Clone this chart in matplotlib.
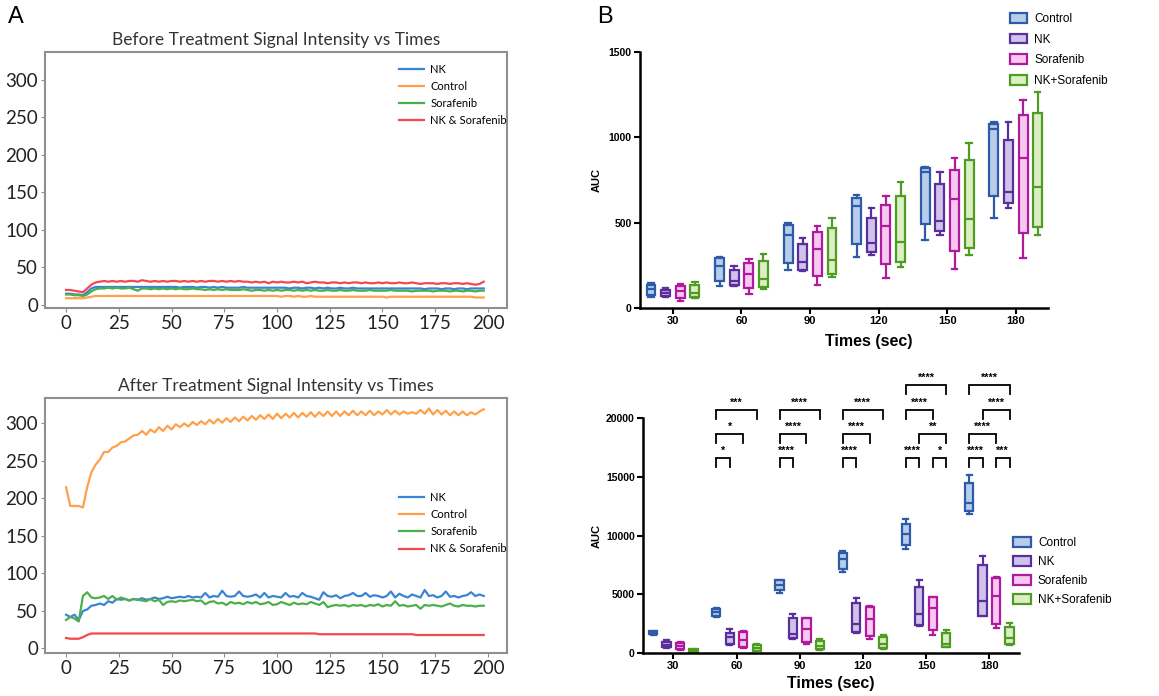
import matplotlib.pyplot as plt
import numpy as np
from matplotlib.patches import Patch

# ---------------- data ----------------
t = np.arange(0, 200, 2)  # sample times (every 2 s)

# panel A, before treatment
before_nk = [15, 15, 14, 14, 13, 17, 22, 24, 24, 24, 24, 24, 24, 24, 24, 24, 24, 24, 24, 24,
             24, 24, 24, 24, 24, 24, 24, 23, 24, 24, 24, 23, 24, 24, 23, 24, 23, 24, 23, 23,
             23, 23, 24, 23, 23, 23, 23, 23, 23, 23, 23, 23, 23, 22, 23, 23, 22, 23, 23, 22,
             23, 22, 23, 22, 22, 23, 22, 22, 23, 22, 22, 22, 22, 22, 22, 22, 22, 22, 22, 22,
             22, 22, 22, 22, 22, 21, 22, 22, 22, 21, 22, 22, 21, 22, 22, 21, 22, 22, 22, 22]
before_ctrl = [9, 9, 9, 9, 9, 10, 11, 12, 12, 12, 12, 12, 12, 12, 12, 12, 12, 12, 12, 12,
               12, 12, 12, 12, 12, 12, 12, 12, 12, 12, 12, 12, 12, 12, 12, 12, 12, 12, 12, 12,
               12, 12, 12, 12, 12, 12, 12, 12, 12, 12, 12, 11, 12, 12, 11, 12, 11, 11, 12, 11,
               11, 11, 11, 11, 11, 11, 11, 11, 11, 11, 11, 11, 11, 11, 11, 11, 10, 11, 11, 11,
               11, 11, 11, 11, 11, 11, 11, 11, 11, 11, 11, 11, 11, 11, 11, 11, 11, 10, 10, 10]
before_sor = [14, 14, 13, 13, 12, 14, 18, 21, 22, 22, 23, 22, 23, 22, 22, 23, 21, 19, 22, 22,
              21, 22, 21, 22, 21, 22, 21, 22, 21, 21, 22, 21, 21, 20, 21, 20, 21, 20, 21, 20,
              20, 20, 21, 20, 19, 20, 20, 19, 20, 19, 20, 19, 20, 20, 19, 20, 19, 20, 19, 20,
              19, 19, 20, 19, 19, 20, 19, 19, 20, 19, 19, 19, 20, 19, 19, 19, 19, 20, 19, 19,
              19, 19, 18, 19, 19, 19, 19, 18, 19, 19, 19, 18, 19, 19, 18, 19, 19, 18, 19, 19]
before_nks = [20, 20, 19, 18, 17, 22, 27, 30, 31, 32, 31, 32, 31, 32, 31, 32, 32, 31, 33, 32,
              31, 32, 31, 32, 31, 32, 32, 31, 32, 31, 32, 31, 32, 31, 32, 32, 31, 32, 31, 32,
              31, 32, 31, 31, 30, 31, 30, 31, 29, 31, 30, 31, 30, 30, 31, 30, 31, 29, 30, 31,
              30, 30, 29, 30, 30, 29, 30, 29, 30, 30, 29, 30, 29, 29, 30, 29, 30, 29, 29, 30,
              29, 29, 30, 29, 28, 29, 29, 29, 28, 29, 29, 28, 29, 29, 28, 29, 28, 27, 28, 31]

# panel A, after treatment
after_nk = [45, 42, 45, 38, 50, 52, 57, 58, 60, 58, 63, 61, 66, 65, 66, 64, 66, 65, 67, 65,
            66, 68, 66, 67, 69, 67, 68, 69, 68, 70, 68, 69, 68, 74, 68, 70, 69, 77, 70, 69,
            70, 76, 70, 69, 70, 72, 68, 74, 68, 70, 69, 68, 74, 69, 70, 68, 74, 70, 69, 67,
            65, 75, 70, 69, 71, 67, 70, 71, 74, 70, 70, 74, 69, 71, 70, 68, 70, 76, 68, 73,
            70, 68, 72, 70, 68, 78, 70, 71, 68, 70, 76, 69, 70, 68, 70, 71, 75, 70, 72, 70]
after_ctrl = [215, 190, 190, 190, 188, 215, 235, 245, 252, 262, 262, 268, 270, 275, 276, 280, 284, 285, 290, 285,
              292, 288, 295, 290, 297, 292, 299, 295, 300, 296, 302, 298, 303, 299, 305, 300, 306, 301, 307, 302,
              308, 303, 309, 304, 310, 305, 311, 306, 312, 306, 313, 307, 313, 308, 314, 308, 314, 309, 315, 309,
              315, 310, 316, 310, 316, 310, 316, 311, 317, 311, 316, 311, 317, 311, 316, 312, 318, 312, 317, 312,
              316, 313, 315, 313, 318, 313, 320, 312, 318, 312, 317, 311, 316, 311, 316, 311, 315, 312, 316, 319]
after_sor = [38, 42, 40, 36, 70, 75, 68, 67, 68, 70, 66, 70, 65, 68, 66, 64, 66, 65, 64, 63,
             66, 63, 65, 58, 62, 63, 62, 64, 63, 64, 65, 63, 64, 59, 62, 63, 60, 61, 58, 62,
             60, 61, 59, 62, 60, 62, 59, 60, 62, 58, 59, 62, 60, 58, 61, 59, 60, 59, 62, 60,
             58, 62, 55, 57, 58, 57, 58, 56, 58, 57, 58, 56, 58, 57, 59, 56, 58, 57, 63, 57,
             58, 56, 57, 58, 53, 58, 57, 58, 57, 56, 58, 60, 57, 56, 58, 57, 57, 56, 57, 57]
after_nks = [14, 13, 13, 13, 15, 18, 20, 20, 20, 20, 20, 20, 20, 20, 20, 20, 20, 20, 20, 20,
             20, 20, 20, 20, 20, 20, 20, 20, 20, 20, 20, 20, 20, 20, 20, 20, 20, 20, 20, 20,
             20, 20, 20, 20, 20, 20, 20, 20, 20, 20, 20, 20, 20, 20, 20, 20, 20, 20, 20, 20,
             19, 19, 19, 19, 19, 19, 19, 19, 19, 19, 19, 19, 19, 19, 19, 19, 19, 19, 19, 19,
             19, 19, 19, 18, 18, 18, 18, 18, 18, 18, 18, 18, 18, 18, 18, 18, 18, 18, 18, 18]

# panel B, box statistics per time point: (whislo, q1, med, q3, whishi)
times = [30, 60, 90, 120, 150, 180]
groups = ['Control', 'NK', 'Sorafenib', 'NK+Sorafenib']

auc1_ctrl = [(65, 75, 110, 135, 145), (128, 160, 245, 290, 300), (220, 265, 425, 485, 500),
             (298, 372, 600, 645, 660), (397, 495, 795, 822, 828), (530, 658, 1047, 1077, 1087)]
auc1_nk = [(62, 70, 88, 105, 120), (130, 135, 160, 220, 245), (215, 220, 270, 375, 410),
           (310, 330, 380, 530, 585), (425, 450, 510, 725, 797), (587, 613, 681, 985, 1089)]
auc1_sor = [(40, 60, 100, 130, 143), (80, 115, 200, 265, 285), (137, 190, 345, 445, 478),
            (178, 258, 480, 605, 655), (229, 335, 636, 810, 877), (294, 440, 877, 1128, 1220)]
auc1_nks = [(60, 62, 85, 133, 155), (110, 125, 170, 275, 315), (180, 200, 280, 470, 525),
            (240, 270, 385, 658, 740), (310, 354, 520, 867, 969), (425, 476, 707, 1141, 1267)]

auc2_ctrl = [(1550, 1650, 1750, 1850, 1870), (3060, 3120, 3480, 3770, 3860), (5100, 5330, 5760, 6180, 6240),
             (6860, 7150, 7970, 8510, 8680), (8880, 9160, 10100, 11000, 11430), (11800, 12100, 12800, 14470, 15120)]
auc2_nk = [(450, 480, 700, 900, 1080), (650, 800, 1350, 1700, 2040), (1220, 1300, 1650, 3000, 3350),
           (1700, 1790, 2500, 4280, 4700), (2270, 2350, 3350, 5620, 6240), (3120, 3150, 4420, 7520, 8230)]
auc2_sor = [(280, 300, 560, 850, 930), (450, 550, 1130, 1780, 1870), (790, 900, 2070, 2980, 3000),
            (1220, 1420, 2920, 3920, 3970), (1560, 1930, 3860, 4770, 4770), (2130, 2500, 4820, 6410, 6470)]
auc2_nks = [(30, 60, 180, 300, 370), (150, 200, 430, 700, 800), (280, 300, 620, 990, 1220),
            (370, 400, 800, 1360, 1560), (500, 550, 800, 1700, 1990), (650, 750, 1280, 2210, 2550)]

# significance brackets: (time index, group a, group b, level, label)
sig = [(1, 0, 1, 0, '*'), (1, 0, 2, 1, '*'), (1, 0, 3, 2, '***'),
       (2, 0, 1, 0, '****'), (2, 0, 2, 1, '****'), (2, 0, 3, 2, '****'),
       (3, 0, 1, 0, '****'), (3, 0, 2, 1, '****'), (3, 0, 3, 2, '****'),
       (4, 0, 1, 0, '****'), (4, 2, 3, 0, '*'), (4, 1, 3, 1, '**'), (4, 0, 2, 2, '****'), (4, 0, 3, 3, '****'),
       (5, 0, 1, 0, '****'), (5, 2, 3, 0, '***'), (5, 0, 2, 1, '****'), (5, 1, 3, 2, '****'), (5, 0, 3, 3, '****')]
sig_levels = [16600, 18670, 20710, 22780]

# ---------------- style ----------------
line_cols = {'NK': '#3a84d6', 'Control': '#ffa04a', 'Sorafenib': '#4cae4c', 'NK & Sorafenib': '#f5474f'}
edge_cols = ['#2d5ba8', '#5a2f9c', '#b01a9c', '#4f9c22']
face_cols = ['#b8cde9', '#d0c3ea', '#f6c9f0', '#dcefc4']
offsets = [-0.32, -0.107, 0.107, 0.32]
afont = 'Lato'
bfont = 'Liberation Sans'

fig = plt.figure(figsize=(11.59, 6.96), dpi=100)


def panel_a(rect, title, nk, ctrl, sor, nks, leg_y, ylim):
    ax = fig.add_axes(rect)
    ax.plot(t, nk, color=line_cols['NK'], lw=1.6, label='NK')
    ax.plot(t, ctrl, color=line_cols['Control'], lw=1.6, label='Control')
    ax.plot(t, sor, color=line_cols['Sorafenib'], lw=1.6, label='Sorafenib')
    ax.plot(t, nks, color=line_cols['NK & Sorafenib'], lw=1.6, label='NK & Sorafenib')
    ax.set_xlim(-10, 209)
    ax.set_ylim(*ylim)
    ax.set_xticks(np.arange(0, 201, 25))
    ax.set_yticks(np.arange(0, 301, 50))
    for s in ax.spines.values():
        s.set_color('#8f8f8f')
        s.set_linewidth(1.5)
    ax.tick_params(length=3, color='#8f8f8f', labelsize=13.5, labelcolor='#222222', pad=2)
    for lab in ax.get_xticklabels() + ax.get_yticklabels():
        lab.set_fontfamily(afont)
    ax.set_title(title, fontsize=12.5, family=afont, color='#333333', pad=5)
    ax.legend(loc='upper left', bbox_to_anchor=(0.745, leg_y), frameon=False,
              prop={'family': afont, 'size': 8}, handlelength=2.2, handletextpad=0.6,
              labelspacing=0.55)
    return ax


panel_a([0.0388, 0.5575, 0.3986, 0.3678], 'Before Treatment Signal Intensity vs Times',
        before_nk, before_ctrl, before_sor, before_nks, 0.993, (-4, 337))
panel_a([0.0388, 0.0618, 0.3986, 0.3664], 'After Treatment Signal Intensity vs Times',
        after_nk, after_ctrl, after_sor, after_nks, 0.67, (-6, 334))


def panel_b(rect, data, ymax, yticks):
    ax = fig.add_axes(rect)
    for g, vals in enumerate(data):
        stats = [dict(whislo=v[0], q1=v[1], med=v[2], q3=v[3], whishi=v[4], fliers=[]) for v in vals]
        pos = [i + offsets[g] for i in range(len(times))]
        ax.bxp(stats, positions=pos, widths=0.13, patch_artist=True, showfliers=False,
               boxprops=dict(facecolor=face_cols[g], edgecolor=edge_cols[g], linewidth=1.6),
               medianprops=dict(color=edge_cols[g], linewidth=1.6),
               whiskerprops=dict(color=edge_cols[g], linewidth=1.6),
               capprops=dict(color=edge_cols[g], linewidth=1.6), capwidths=0.08)
    ax.set_xlim(-0.48, 5.47)
    ax.set_ylim(0, ymax)
    ax.set_xticks(range(len(times)))
    ax.set_xticklabels(times)
    ax.set_yticks(yticks)
    ax.spines['top'].set_visible(False)
    ax.spines['right'].set_visible(False)
    ax.spines['left'].set_linewidth(1.8)
    ax.spines['bottom'].set_linewidth(1.8)
    ax.tick_params(length=4, width=1.5, pad=2)
    for lab in ax.get_xticklabels():
        lab.set(fontfamily=bfont, fontweight='bold', fontsize=8)
    for lab in ax.get_yticklabels():
        lab.set(fontfamily=bfont, fontweight='bold', fontsize=7.5)
    ax.set_ylabel('AUC', family=bfont, fontweight='bold', fontsize=8)
    ax.set_xlabel('Times (sec)', family=bfont, fontweight='bold', fontsize=11.5)
    return ax


handles = [Patch(facecolor=face_cols[g], edgecolor=edge_cols[g], linewidth=1.6, label=groups[g])
           for g in range(4)]

ax1 = panel_b([0.5522, 0.5575, 0.3520, 0.3678], [auc1_ctrl, auc1_nk, auc1_sor, auc1_nks], 1500,
              [0, 500, 1000, 1500])
ax1.yaxis.set_label_coords(-0.095, 0.5)
ax1.xaxis.set_label_coords(0.56, -0.1)
ax1.legend(handles=handles, loc='upper left', bbox_to_anchor=(0.862, 0.997),
           bbox_transform=fig.transFigure, frameon=False, prop={'family': bfont, 'size': 8.5},
           handlelength=1.5, handleheight=0.9, labelspacing=0.75, handletextpad=0.6)

ax2 = panel_b([0.5548, 0.0618, 0.3244, 0.3376], [auc2_ctrl, auc2_nk, auc2_sor, auc2_nks], 20000,
              [0, 5000, 10000, 15000, 20000])
ax2.yaxis.set_label_coords(-0.11, 0.5)
ax2.xaxis.set_label_coords(0.5, -0.1)
ax2.legend(handles=handles, loc='upper left', bbox_to_anchor=(0.865, 0.244),
           bbox_transform=fig.transFigure, frameon=False, prop={'family': bfont, 'size': 8.5},
           handlelength=1.5, handleheight=0.9, labelspacing=0.6, handletextpad=0.6)

for i, a, b, lev, txt in sig:
    x1, x2 = i + offsets[a], i + offsets[b]
    ytop = sig_levels[lev]
    ax2.plot([x1, x1, x2, x2], [ytop - 770, ytop, ytop, ytop - 770], color='black', lw=1.3,
             clip_on=False, solid_joinstyle='miter')
    ax2.text((x1 + x2) / 2, ytop + 620, txt, ha='center', va='center', fontsize=7.8,
             fontweight='bold', family=bfont)

fig.text(0.007, 0.975, 'A', fontsize=17, va='center', ha='left', family=bfont)
fig.text(0.515, 0.975, 'B', fontsize=17, va='center', ha='left', family=bfont)

fig.savefig('out.png', dpi=100)
